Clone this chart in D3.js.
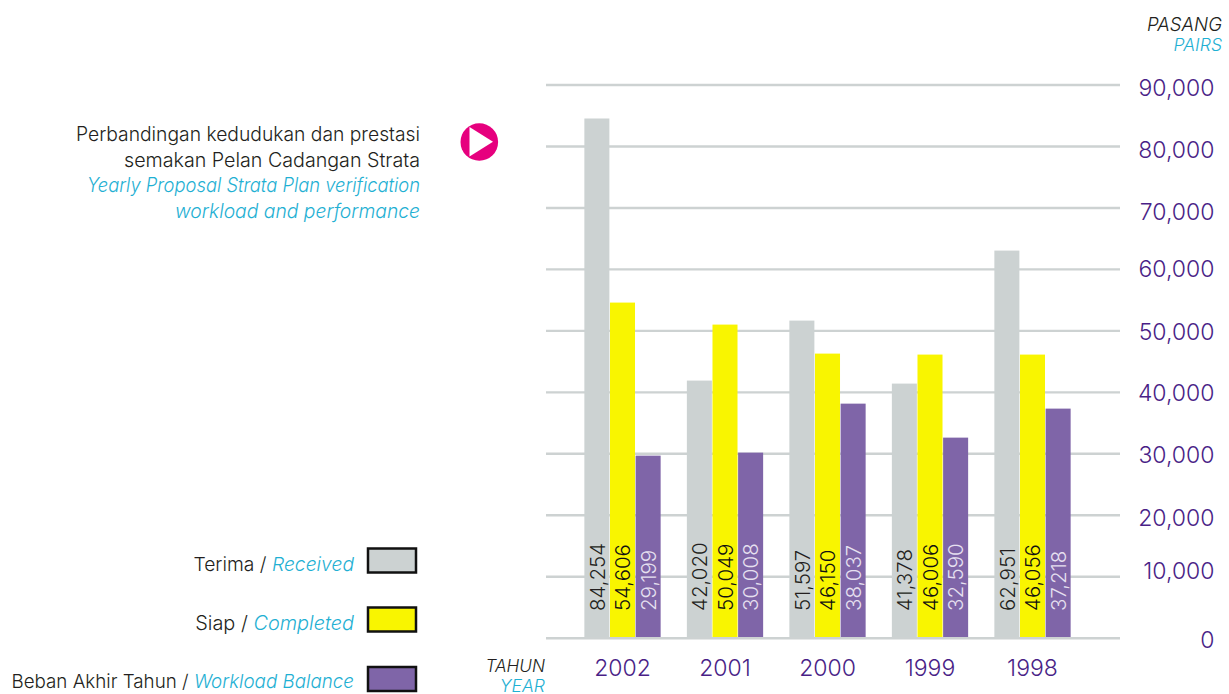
<!DOCTYPE html>
<html><head><meta charset="utf-8">
<script src="https://cdn.jsdelivr.net/npm/d3@7"></script>
<style>
html,body{margin:0;padding:0;background:#fff;overflow:hidden}
text{font-family:"Inter",sans-serif;font-weight:300}
</style></head><body>
<svg id="c" width="1229" height="694"></svg>
<script>
const years=["2002","2001","2000","1999","1998"];
const seriesNames=["received","completed","balance"];
// figures printed on the bars
const receivedLabels=["84,254","42,020","51,597","41,378","62,951"];
const completedLabels=["54,606","50,049","46,150","46,006","46,056"];
const balanceLabels=["29,199","30,008","38,037","32,590","37,218"];
// bar heights as drawn in the picture, read against the axis
const receivedHeights=[84470,41830,51590,41340,62980];
const completedHeights=[54520,50940,46220,46060,46060];
const balanceHeights=[29620,30110,38080,32550,37270];
const yTicks=[0,10000,20000,30000,40000,50000,60000,70000,80000,90000];
const yLabelShift=[0,-7,1,0,-1,-1,-2,2,2,1];
const legendLabels=[["Terima / ","Received"],["Siap / ","Completed"],["Beban Akhir Tahun / ","Workload Balance"]];
const legendSizes=[19.3,19.9,18.8];
const titleLines=["Perbandingan kedudukan dan prestasi","semakan Pelan Cadangan Strata","Yearly Proposal Strata Plan verification","workload and performance"];
const titleWidths=[344,296,333,245];

const BLACK="#231f20",CYAN="#1fb0d3",PURPLE="#4a1f87",GRID="#cdd2d2";
const colors={received:"#ccd2d2",completed:"#f9f500",balance:"#7f65a8"};
const labelColors={received:"#231f20",completed:"#111",balance:"#e6e0f0"};
const svg=d3.select("#c");
const y=d3.scaleLinear().domain([0,90000]).range([637.7,84.5]);
const x0=d3.scaleBand().domain(years).range([571.25,1083.75]).paddingInner(0.25).paddingOuter(0.125);
const x1=d3.scaleBand().domain(seriesNames).range([0,x0.bandwidth()]);
const heights={received:receivedHeights,completed:completedHeights,balance:balanceHeights};
const labels={received:receivedLabels,completed:completedLabels,balance:balanceLabels};

const ax=svg.append("g").attr("transform","translate(1120,0)")
  .call(d3.axisRight(y).tickValues(yTicks).tickSize(-574).tickFormat(d3.format(",")));
ax.select(".domain").remove();
ax.selectAll("line").attr("stroke",GRID).attr("stroke-width",2.4);
ax.selectAll("text").attr("x",94.5).attr("dy","0.42em").attr("text-anchor","end")
  .attr("transform",(d,i)=>`translate(0,${yLabelShift[i]})`)
  .attr("fill",PURPLE).style("font-size","23px").style("font-family","Inter").style("font-weight","300");

seriesNames.forEach(s=>{
  const g=svg.append("g");
  g.selectAll("rect").data(years).join("rect")
    .attr("x",d=>x0(d)+x1(s)+0.3)
    .attr("y",(d,i)=>y(heights[s][i]))
    .attr("width",x1.bandwidth()-0.6)
    .attr("height",(d,i)=>y(0)-y(heights[s][i])-0.7)
    .attr("fill",colors[s]);
  g.selectAll("text").data(years).join("text")
    .attr("transform",d=>`translate(${x0(d)+x1(s)+x1.bandwidth()/2+7.8},611) rotate(-90)`)
    .attr("fill",labelColors[s]).style("font-size","20.5px")
    .text((d,i)=>labels[s][i]);
});

const xa=svg.append("g").attr("transform","translate(0,668)")
  .call(d3.axisBottom(x0).tickSize(0).tickPadding(0));
xa.select(".domain").remove();
xa.selectAll("text").attr("y",0).attr("dy","0.36em").attr("fill",PURPLE)
  .style("font-size","23px").style("font-family","Inter").style("font-weight","300");

function lab(x,yy,t,c,size,italic){
  return svg.append("text").attr("x",x).attr("y",yy).attr("fill",c).attr("text-anchor","end")
    .style("font-size",size+"px").style("font-style",italic?"italic":"normal").text(t);
}
lab(1222,30.7,"PASANG",BLACK,18.6,true);
lab(1222,50.7,"PAIRS",CYAN,17.6,true);
lab(545,671.5,"TAHUN",BLACK,17.2,true);
lab(545,691.5,"YEAR",CYAN,17.6,true);

titleLines.forEach((t,i)=>lab(420,141+i*25.7,t,i<2?BLACK:CYAN,19.4,i>=2)
  .attr("textLength",titleWidths[i]).attr("lengthAdjust","spacingAndGlyphs"));

svg.append("circle").attr("cx",479.3).attr("cy",142).attr("r",18.8).attr("fill","#e6007e");
svg.append("path").attr("d",d3.line()([[469.5,127],[493,141.8],[469.5,156.5]])+"Z").attr("fill","#fff");

const legY=[560.5,619.5,679];
const legBase=[570.5,629.5,688];
seriesNames.forEach((s,i)=>{
  svg.append("rect").attr("x",368).attr("y",legY[i]-12).attr("width",48).attr("height",24)
    .attr("fill",colors[s]).attr("stroke","#111").attr("stroke-width",2.5);
  const t=svg.append("text").attr("x",354).attr("y",legBase[i]).attr("text-anchor","end")
    .style("font-size",legendSizes[i]+"px").attr("fill",BLACK);
  t.append("tspan").text(legendLabels[i][0]);
  t.append("tspan").attr("fill",CYAN).style("font-style","italic").text(legendLabels[i][1]);
});
</script></body></html>
